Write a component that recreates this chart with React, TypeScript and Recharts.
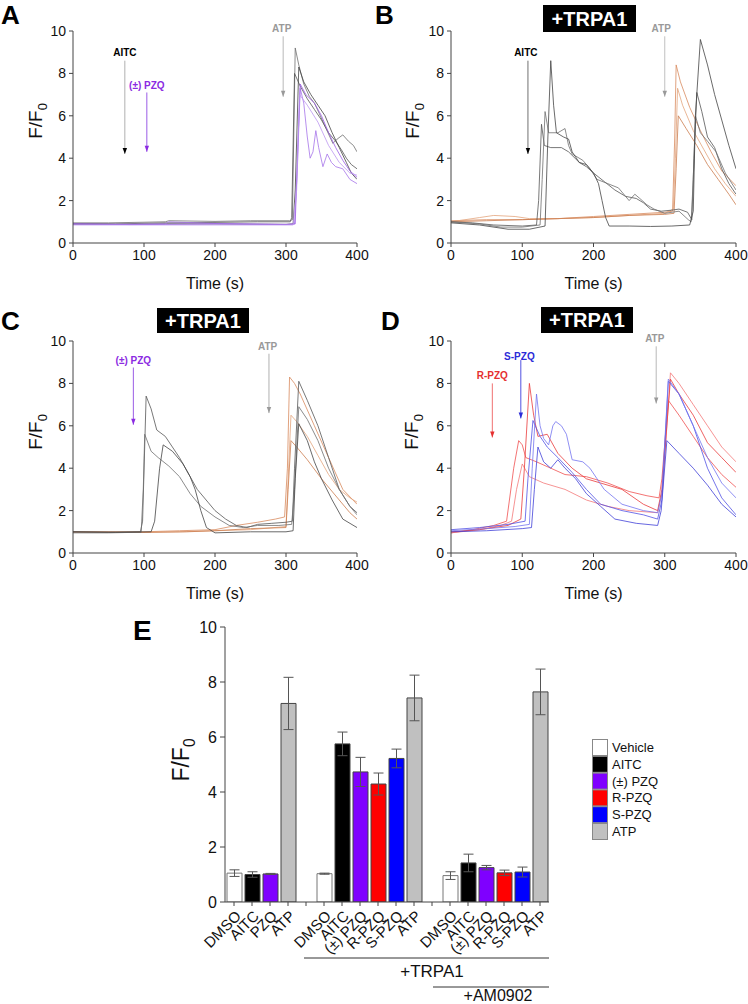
import React from 'react';
import {
  LineChart, Line, XAxis, YAxis, ReferenceLine, ReferenceDot,
  BarChart, Bar, Cell, ErrorBar,
} from 'recharts';

type Pt = [number, number];

// ---------- Panel A traces (time s, F/F0) ----------
const A_gray1: Pt[] = [[0,0.95],[50,0.95],[100,0.98],[130,1.0],[135,1.05],[200,1.02],[250,1.05],[305,1.05],[309,1.1],[313,9.2],[318,8.4],[325,7.5],[333,6.9],[340,6.6],[347,6.1],[355,5.5],[366,4.7],[372,4.9],[380,5.1],[388,4.8],[395,4.6],[400,4.3]];
const A_gray2: Pt[] = [[0,0.92],[60,0.9],[130,0.95],[200,0.97],[260,1.0],[306,1.0],[308,1.2],[312,8.0],[320,7.4],[330,6.8],[340,6.3],[350,5.8],[360,5.2],[370,4.8],[378,4.4],[385,4.0],[392,3.7],[400,3.5]];
const A_gray3: Pt[] = [[0,0.88],[100,0.88],[130,0.9],[200,0.9],[300,0.88],[310,0.9],[313,2.5],[318,8.3],[325,7.6],[335,7.0],[345,6.5],[355,6.0],[365,5.2],[375,4.5],[385,3.8],[392,3.3],[400,3.0]];
const A_purple1: Pt[] = [[0,0.9],[50,0.88],[130,0.9],[135,1.0],[200,0.92],[300,0.88],[312,0.9],[316,3.5],[320,7.3],[325,6.6],[330,5.0],[334,4.0],[338,4.3],[342,5.3],[346,4.5],[352,3.6],[358,4.2],[364,3.8],[370,3.6],[380,3.5],[390,3.0],[400,2.8]];
const A_purple2: Pt[] = [[0,0.9],[80,0.87],[130,0.88],[200,0.9],[300,0.87],[313,0.9],[316,4.0],[320,7.5],[328,7.0],[340,6.6],[350,6.0],[360,5.2],[370,4.5],[380,3.9],[390,3.4],[400,3.1]];
const A_purple3: Pt[] = [[0,0.85],[100,0.85],[200,0.85],[310,0.85],[315,2.5],[319,7.0],[330,6.5],[345,5.7],[360,4.6],[375,3.8],[390,3.3],[400,3.2]];

// ---------- Panel B traces ----------
const B_gray1: Pt[] = [[0,1.0],[30,0.95],[60,0.85],[100,0.8],[120,0.85],[123,2.0],[127,5.6],[131,4.6],[140,4.5],[155,4.5],[165,4.3],[180,3.8],[190,3.6],[200,3.3],[215,2.9],[230,2.5],[245,2.2],[260,2.1],[270,1.9],[280,1.6],[295,1.5],[310,1.55],[320,1.6],[332,1.45],[338,1.1],[341,4.0],[345,7.1],[352,6.2],[360,5.0],[370,4.5],[380,3.5],[390,2.8],[400,2.3]];
const B_gray2: Pt[] = [[0,1.0],[40,0.9],[70,0.75],[100,0.75],[125,0.85],[128,3.0],[132,6.2],[137,5.2],[150,5.2],[160,5.4],[165,4.6],[170,4.2],[185,3.9],[195,3.5],[205,3.0],[220,2.8],[235,2.6],[250,2.0],[258,2.3],[265,2.1],[275,1.8],[285,1.6],[300,1.4],[320,1.5],[333,1.1],[337,1.0],[340,3.0],[343,6.0],[350,5.2],[360,4.8],[372,4.3],[385,3.3],[400,2.5]];
const B_gray3: Pt[] = [[0,0.95],[40,0.85],[80,0.65],[110,0.65],[132,0.8],[136,5.0],[140,8.6],[144,6.5],[148,5.2],[158,5.0],[165,4.9],[170,4.3],[180,3.8],[190,3.7],[200,3.3],[207,2.8],[212,2.0],[217,1.2],[222,0.8],[250,0.8],[280,0.78],[310,0.8],[335,0.85],[340,1.5],[343,6.0],[350,9.6],[360,8.4],[370,7.0],[380,5.8],[390,4.6],[400,3.5]];
const B_orange1: Pt[] = [[0,1.05],[50,1.1],[100,1.1],[150,1.15],[200,1.25],[250,1.35],[300,1.45],[311,1.5],[314,5.0],[316,8.4],[322,7.6],[335,6.4],[350,5.3],[365,4.3],[380,3.4],[400,2.7]];
const B_orange2: Pt[] = [[0,1.0],[40,1.2],[60,1.3],[90,1.25],[110,1.15],[150,1.15],[200,1.2],[250,1.3],[300,1.4],[312,1.6],[315,4.0],[318,7.3],[325,6.5],[340,5.3],[355,4.4],[370,3.5],[385,2.8],[400,2.2]];
const B_orange3: Pt[] = [[0,1.0],[50,1.05],[100,1.1],[150,1.15],[200,1.2],[250,1.3],[300,1.35],[313,1.4],[316,3.5],[319,6.0],[330,5.4],[345,4.6],[360,3.7],[375,3.0],[390,2.3],[400,1.8]];

// ---------- Panel C traces ----------
const C_gray1: Pt[] = [[0,1.0],[50,0.98],[95,1.0],[98,1.5],[103,7.4],[110,6.8],[118,5.8],[130,5.5],[140,5.0],[150,4.5],[160,3.9],[175,3.0],[190,2.4],[200,2.0],[215,1.6],[230,1.3],[245,1.2],[260,1.35],[280,1.4],[300,1.45],[309,1.5],[312,4.0],[318,8.1],[330,7.2],[345,6.0],[360,4.5],[375,3.0],[390,2.2],[400,1.9]];
const C_gray2: Pt[] = [[0,0.95],[50,0.95],[96,0.98],[99,3.0],[101,5.6],[110,4.8],[120,4.5],[135,4.1],[150,3.6],[165,2.8],[180,2.2],[200,1.7],[220,1.3],[240,1.2],[260,1.3],[290,1.3],[308,1.35],[312,3.0],[318,6.9],[330,6.3],[345,5.3],[360,4.0],[375,3.0],[390,2.2],[400,1.8]];
const C_gray3: Pt[] = [[0,1.0],[60,0.98],[110,1.0],[115,1.5],[122,4.0],[127,5.1],[140,4.8],[155,4.2],[165,3.6],[172,3.0],[180,2.0],[188,1.2],[200,0.95],[250,1.0],[300,1.0],[310,1.05],[313,3.5],[318,6.1],[330,5.3],[340,4.3],[350,3.5],[365,2.5],[380,1.6],[400,1.2]];
const C_orange1: Pt[] = [[0,1.0],[100,1.0],[150,1.05],[200,1.1],[230,1.3],[260,1.45],[285,1.6],[298,1.7],[302,4.0],[305,8.3],[312,8.0],[320,7.5],[340,6.0],[360,4.5],[380,3.0],[400,2.3]];
const C_orange2: Pt[] = [[0,1.0],[100,0.98],[150,1.0],[200,1.05],[250,1.1],[300,1.25],[303,3.5],[307,6.5],[315,6.2],[330,5.5],[345,4.6],[360,3.7],[375,3.0],[390,2.6],[400,2.4]];
const C_orange3: Pt[] = [[0,0.98],[100,0.97],[160,1.0],[200,1.05],[250,1.15],[300,1.2],[303,3.0],[307,5.3],[315,5.0],[330,4.4],[350,3.5],[375,2.5],[390,1.9],[400,1.6]];

// ---------- Panel D traces ----------
const D_red1: Pt[] = [[0,0.95],[30,1.1],[60,1.3],[78,1.5],[82,2.5],[88,4.0],[95,5.3],[100,5.1],[105,4.5],[120,4.3],[140,4.0],[160,3.7],[190,3.6],[220,3.3],[250,2.9],[275,2.7],[292,2.6],[296,3.5],[305,7.2],[320,6.5],[340,5.5],[360,4.5],[380,3.7],[400,3.1]];
const D_red2: Pt[] = [[0,0.95],[40,1.1],[70,1.3],[85,1.5],[92,3.0],[100,4.2],[110,3.6],[130,3.3],[160,3.0],[190,2.5],[220,2.2],[250,2.0],[290,1.9],[297,3.0],[308,8.5],[320,8.0],[340,7.0],[360,6.0],[380,5.0],[400,4.3]];
const D_red3: Pt[] = [[0,1.0],[40,1.1],[80,1.3],[98,1.6],[103,4.0],[110,8.0],[116,6.5],[122,5.5],[135,5.6],[150,4.7],[170,4.0],[190,3.5],[210,3.3],[240,3.0],[270,2.3],[290,2.0],[296,3.0],[308,8.2],[320,7.5],[340,6.5],[360,5.2],[380,4.5],[400,3.8]];
const D_blue1: Pt[] = [[0,1.1],[40,1.2],[80,1.35],[104,1.5],[108,3.5],[115,6.25],[125,5.5],[135,5.0],[150,4.5],[170,3.8],[190,3.0],[210,2.3],[240,2.0],[270,1.8],[290,1.6],[296,2.5],[305,8.1],[320,7.5],[340,6.0],[360,4.0],[380,2.6],[400,1.8]];
const D_blue2: Pt[] = [[0,1.05],[50,1.15],[90,1.25],[110,1.35],[114,4.0],[120,7.5],[125,6.0],[130,5.4],[137,5.1],[143,6.0],[147,6.2],[155,6.0],[162,5.6],[170,4.4],[185,4.3],[195,4.0],[205,3.5],[215,3.0],[240,2.3],[270,2.0],[290,1.9],[296,2.8],[305,8.2],[320,7.5],[340,6.0],[360,4.5],[380,3.3],[400,2.6]];
const D_blue3: Pt[] = [[0,1.0],[50,1.05],[100,1.15],[113,1.2],[117,3.0],[122,5.0],[130,4.3],[140,4.0],[150,4.4],[160,4.0],[175,3.5],[190,2.8],[210,2.2],[230,1.6],[260,1.4],[290,1.3],[295,2.0],[303,5.3],[320,4.7],[340,4.0],[360,3.2],[380,2.3],[400,1.7]];

// ---------- Panel E (bar chart) ----------
const E_LABELS = ['DMSO','AITC','PZQ','ATP','','DMSO','AITC','(±) PZQ','R-PZQ','S-PZQ','ATP','','DMSO','AITC','(±) PZQ','R-PZQ','S-PZQ','ATP'];
const E_KINDS = ['Vehicle','AITC','(±) PZQ','ATP','','Vehicle','AITC','(±) PZQ','R-PZQ','S-PZQ','ATP','','Vehicle','AITC','(±) PZQ','R-PZQ','S-PZQ','ATP'];
const E_VALUES: (number | null)[] = [1.05,1.0,1.02,7.22,null,1.03,5.75,4.73,4.29,5.22,7.42,null,0.96,1.42,1.25,1.06,1.09,7.64];
const E_ERRORS: (number | null)[] = [0.12,0.1,0.02,0.95,null,0.02,0.43,0.53,0.4,0.34,0.83,null,0.14,0.32,0.08,0.1,0.18,0.83];
const LEGEND_NAMES = ['Vehicle','AITC','(±) PZQ','R-PZQ','S-PZQ','ATP'];
const KIND_COLORS: Record<string, string> = {
  'Vehicle': '#ffffff', 'AITC': '#000000', '(±) PZQ': '#7f00ff',
  'R-PZQ': '#ff0000', 'S-PZQ': '#0000ff', 'ATP': '#c0c0c0',
};

const X_TICKS = [0, 100, 200, 300, 400];
const Y_TICKS = [0, 2, 4, 6, 8, 10];

const FONT = 'Arial, "Liberation Sans", sans-serif';

type Trace = { pts: Pt[]; color: string };
type Arrow = { t: number; textT: number; top: number; tip: number; textY: number; label: string; textColor: string; shaft: string; head: string };

const GRAYS = ['#555555', '#6e6e6e', '#444444'];
const PURPLES = ['#a673ea', '#9a5ce6', '#bb95f0'];
const ORANGES = ['#d88a5e', '#e3a47c', '#cc7c4e'];
const REDS = ['#f05050', '#f47878', '#ea3a3a'];
const BLUES = ['#5252e4', '#7474f0', '#4040d8'];

const tracesA: Trace[] = [
  { pts: A_gray1, color: GRAYS[1] }, { pts: A_gray2, color: GRAYS[0] }, { pts: A_gray3, color: GRAYS[2] },
  { pts: A_purple1, color: PURPLES[0] }, { pts: A_purple2, color: PURPLES[1] }, { pts: A_purple3, color: PURPLES[2] },
];
const tracesB: Trace[] = [
  { pts: B_orange1, color: ORANGES[0] }, { pts: B_orange2, color: ORANGES[1] }, { pts: B_orange3, color: ORANGES[2] },
  { pts: B_gray1, color: GRAYS[0] }, { pts: B_gray2, color: GRAYS[1] }, { pts: B_gray3, color: GRAYS[2] },
];
const tracesC: Trace[] = [
  { pts: C_orange1, color: ORANGES[0] }, { pts: C_orange2, color: ORANGES[1] }, { pts: C_orange3, color: ORANGES[2] },
  { pts: C_gray1, color: GRAYS[0] }, { pts: C_gray2, color: GRAYS[1] }, { pts: C_gray3, color: GRAYS[2] },
];
const tracesD: Trace[] = [
  { pts: D_red1, color: REDS[0] }, { pts: D_red2, color: REDS[1] }, { pts: D_red3, color: REDS[2] },
  { pts: D_blue1, color: BLUES[0] }, { pts: D_blue2, color: BLUES[1] }, { pts: D_blue3, color: BLUES[2] },
];

const arrowsA: Arrow[] = [
  { t: 73, textT: 73, top: 8.6, tip: 4.2, textY: 9.0, label: 'AITC', textColor: '#000', shaft: '#b0b0b0', head: '#000' },
  { t: 104, textT: 104, top: 7.1, tip: 4.3, textY: 7.45, label: '(±) PZQ', textColor: '#8b2be2', shaft: '#9a5ce6', head: '#8b2be2' },
  { t: 296, textT: 294, top: 9.75, tip: 6.9, textY: 10.1, label: 'ATP', textColor: '#999', shaft: '#b8b8b8', head: '#999' },
];
const arrowsB: Arrow[] = [
  { t: 108, textT: 105, top: 8.6, tip: 4.2, textY: 9.0, label: 'AITC', textColor: '#000', shaft: '#707070', head: '#000' },
  { t: 300, textT: 295, top: 9.75, tip: 6.9, textY: 10.1, label: 'ATP', textColor: '#999', shaft: '#c0c0c0', head: '#999' },
];
const arrowsC: Arrow[] = [
  { t: 85, textT: 85, top: 8.75, tip: 6.05, textY: 9.1, label: '(±) PZQ', textColor: '#8b2be2', shaft: '#9a5ce6', head: '#8b2be2' },
  { t: 276, textT: 274, top: 9.4, tip: 6.6, textY: 9.75, label: 'ATP', textColor: '#999', shaft: '#b0b0b0', head: '#999' },
];
const arrowsD: Arrow[] = [
  { t: 58, textT: 58, top: 8.0, tip: 5.45, textY: 8.35, label: 'R-PZQ', textColor: '#e53030', shaft: '#f07070', head: '#e53030' },
  { t: 98, textT: 96, top: 9.1, tip: 6.35, textY: 9.25, label: 'S-PZQ', textColor: '#2b2bd8', shaft: '#5050e0', head: '#2b2bd8' },
  { t: 288, textT: 286, top: 9.75, tip: 7.05, textY: 10.1, label: 'ATP', textColor: '#999', shaft: '#b8b8b8', head: '#999' },
];

const toRows = (pts: Pt[]) => pts.map(([t, v]) => ({ t, v }));

function TracePanel({ left, top, marginLeft, marginRight, traces, arrows }: {
  left: number; top: number; marginLeft: number; marginRight: number; traces: Trace[]; arrows: Arrow[];
}) {
  return (
    <div style={{ position: 'absolute', left, top }}>
      <LineChart width={374} height={300} margin={{ top: 31, right: marginRight, bottom: 0, left: marginLeft }}>
        <XAxis
          type="number" dataKey="t" domain={[0, 400]} ticks={X_TICKS} allowDataOverflow interval={0}
          tick={{ fontSize: 14, fill: '#111', fontFamily: FONT }} tickSize={4} tickMargin={3}
          axisLine={{ stroke: '#444' }} tickLine={{ stroke: '#444' }} height={57}
          label={{ value: 'Time (s)', position: 'insideBottom', offset: 11, fontSize: 16, fill: '#111', fontFamily: FONT }}
        />
        <YAxis
          type="number" domain={[0, 10]} ticks={Y_TICKS} allowDataOverflow interval={0} width={40}
          tick={{ fontSize: 14, fill: '#111', fontFamily: FONT }} tickSize={4} tickMargin={3}
          axisLine={{ stroke: '#444' }} tickLine={{ stroke: '#444' }}
        />
        {traces.map((tr, i) => (
          <Line key={i} data={toRows(tr.pts)} dataKey="v" type="linear" stroke={tr.color}
            strokeWidth={0.8} dot={false} activeDot={false} isAnimationActive={false} />
        ))}
        {arrows.map((a, i) => (
          <ReferenceLine key={'s' + i} segment={[{ x: a.t, y: a.top }, { x: a.t, y: a.tip }]}
            stroke={a.shaft} strokeWidth={1} ifOverflow="visible" />
        ))}
        {arrows.map((a, i) => (
          <ReferenceDot key={'h' + i} x={a.t} y={a.tip} r={2} ifOverflow="visible"
            shape={(p: any) => (
              <path d={`M${p.cx - 2.2},${p.cy - 6} L${p.cx + 2.2},${p.cy - 6} L${p.cx},${p.cy} Z`} fill={a.head} />
            )} />
        ))}
        {arrows.map((a, i) => (
          <ReferenceDot key={'t' + i} x={a.textT} y={a.textY} r={2} ifOverflow="visible"
            shape={(p: any) => (
              <text x={p.cx} y={p.cy} textAnchor="middle" dominantBaseline="central"
                fontSize={10} fontWeight="bold" fill={a.textColor} fontFamily={FONT}>{a.label}</text>
            )} />
        ))}
      </LineChart>
    </div>
  );
}

const E_DATA = E_VALUES.map((v, i) => ({ key: 'c' + i, v, err: E_ERRORS[i] }));

function ETick(props: any) {
  const { x, y, index } = props;
  const label = E_LABELS[index] ?? '';
  if (!label) return null;
  const ex = x + 8;
  const ey = y + 9;
  return (
    <text x={ex} y={ey} transform={`rotate(-45 ${ex} ${ey})`} textAnchor="end"
      fontSize={15} fill="#111" fontFamily={FONT}>{label}</text>
  );
}

function FLabel({ x, y, size }: { x: number; y: number; size: number }) {
  return (
    <text x={x} y={y} transform={`rotate(-90 ${x} ${y})`} textAnchor="middle" fontSize={size} fill="#111" fontFamily={FONT}>
      F/F<tspan fontSize={size * 0.68} dy={size * 0.25}>0</tspan>
    </text>
  );
}

function TrpaBox({ x, y, w, h }: { x: number; y: number; w: number; h: number }) {
  return (
    <g>
      <rect x={x} y={y} width={w} height={h} fill="#000" />
      <text x={x + w / 2} y={y + h / 2 + 7} textAnchor="middle" fontSize={20} fontWeight="bold" fill="#fff" fontFamily={FONT}>+TRPA1</text>
    </g>
  );
}

export default function App() {
  return (
    <div style={{ position: 'absolute', left: 0, top: 0, width: 748, height: 1004, background: '#fff', fontFamily: FONT, overflow: 'hidden' }}>
      <TracePanel left={0} top={0} marginLeft={33} marginRight={17} traces={tracesA} arrows={arrowsA} />
      <TracePanel left={374} top={0} marginLeft={37} marginRight={12} traces={tracesB} arrows={arrowsB} />
      <TracePanel left={0} top={310} marginLeft={33} marginRight={17} traces={tracesC} arrows={arrowsC} />
      <TracePanel left={374} top={310} marginLeft={37} marginRight={12} traces={tracesD} arrows={arrowsD} />

      <div style={{ position: 'absolute', left: 100, top: 600 }}>
        <BarChart width={470} height={404} data={E_DATA} margin={{ top: 27, right: 21, bottom: 0, left: 75 }}>
          <XAxis dataKey="key" type="category" interval={0} tick={<ETick />} height={102} tickSize={4}
            axisLine={{ stroke: '#444' }} tickLine={{ stroke: '#444' }} />
          <YAxis type="number" domain={[0, 10]} ticks={Y_TICKS} allowDataOverflow interval={0} width={50}
            tick={{ fontSize: 16, fill: '#111', fontFamily: FONT }} tickSize={5} tickMargin={3}
            axisLine={{ stroke: '#444' }} tickLine={{ stroke: '#444' }} />
          <Bar dataKey="v" barSize={15} isAnimationActive={false}>
            {E_DATA.map((d, i) => (
              <Cell key={i} fill={KIND_COLORS[E_KINDS[i]] || '#fff'} stroke={E_KINDS[i] === 'Vehicle' ? '#777' : '#444'} strokeWidth={1} />
            ))}
            <ErrorBar dataKey="err" width={5} stroke="#555" strokeWidth={1} />
          </Bar>
        </BarChart>
      </div>

      <svg width={748} height={1004} style={{ position: 'absolute', left: 0, top: 0, pointerEvents: 'none' }}>
        <g fontFamily={FONT} fontWeight="bold" fill="#000">
          <text x={1} y={24} fontSize={26}>A</text>
          <text x={375} y={24} fontSize={26}>B</text>
          <text x={1} y={330} fontSize={26}>C</text>
          <text x={381} y={330} fontSize={26}>D</text>
          <text x={133} y={640} fontSize={28}>E</text>
        </g>
        <TrpaBox x={543} y={5} w={93} h={27} />
        <TrpaBox x={157} y={308} w={92} h={25} />
        <TrpaBox x={541} y={307} w={92} h={26} />

        <FLabel x={42} y={121} size={19} />
        <FLabel x={419} y={121} size={19} />
        <FLabel x={42} y={432} size={19} />
        <FLabel x={418} y={432} size={19} />
        <FLabel x={189} y={760} size={23} />

        <line x1={304} y1={958} x2={549} y2={958} stroke="#333" strokeWidth={1} />
        <text x={432} y={977} textAnchor="middle" fontSize={17} fill="#111" fontFamily={FONT}>+TRPA1</text>
        <line x1={433} y1={987} x2={549} y2={987} stroke="#333" strokeWidth={1} />
        <text x={498} y={1001} textAnchor="middle" fontSize={16} fill="#111" fontFamily={FONT}>+AM0902</text>

        {LEGEND_NAMES.map((n, i) => (
          <g key={n}>
            <rect x={592.5} y={739.5 + i * 16.8} width={15} height={16} fill={KIND_COLORS[n]} stroke="#888" strokeWidth={1} />
            <text x={612} y={752 + i * 16.8} fontSize={13} fill="#111" fontFamily={FONT}>{n}</text>
          </g>
        ))}
      </svg>
    </div>
  );
}
